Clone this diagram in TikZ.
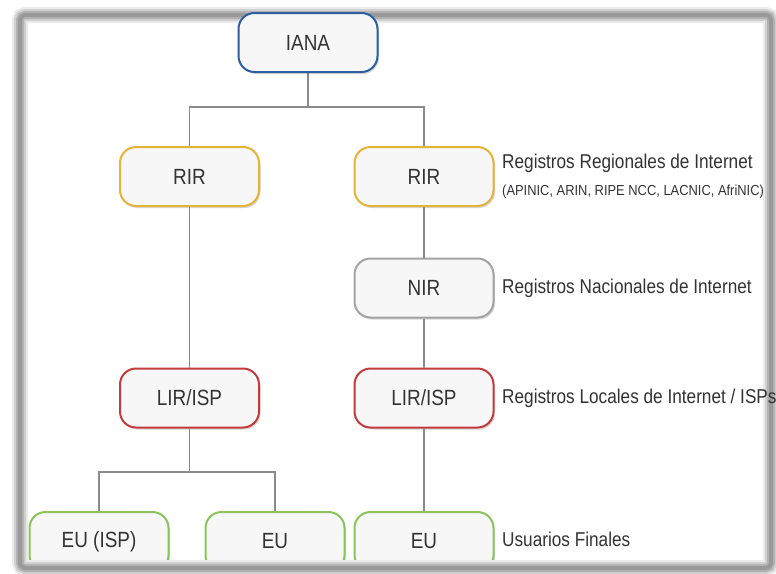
\documentclass[tikz,border=0pt]{standalone}
\usepackage{fontspec}
\setmainfont{Liberation Sans}[FakeStretch=0.86]
\newfontfamily\smallfont{Liberation Sans}[FakeStretch=0.89]
\usetikzlibrary{shadows}
\definecolor{cblue}{HTML}{2F5F9E}
\definecolor{cgold}{HTML}{E3B33A}
\definecolor{cgray}{HTML}{A3A3A3}
\definecolor{cred}{HTML}{C23B3D}
\definecolor{cgreen}{HTML}{8CC35C}
\definecolor{cline}{HTML}{8A8A8A}
\definecolor{ctext}{HTML}{333333}
\tikzset{
  box/.style={draw, line width=2pt, rounded corners=16pt, minimum width=139pt,
    minimum height=59pt, fill=white!97!black, text=ctext,
    font=\fontsize{22}{24}\selectfont, inner sep=0pt,
    drop shadow={shadow xshift=1.5pt, shadow yshift=-2pt, opacity=0.25, fill=black!60}},
  conn/.style={draw=cline, line width=1.5pt},
  lbl/.style={anchor=west, text=ctext, font=\fontsize{20}{22}\selectfont, inner sep=0pt},
  sublbl/.style={anchor=west, text=ctext, font=\smallfont\fontsize{14.5}{16}\selectfont, inner sep=0pt},
  framestroke/.style={draw=#1, rounded corners=5pt}
}
\begin{document}
\begin{tikzpicture}[x=1pt,y=-1pt]
\useasboundingbox (0,0) rectangle (776,573);
\fill[white] (0,0) rectangle (776,573);
\begin{scope}
\clip (22,17) rectangle (771,566);
% nodes
\node[box, draw=cgold] (rir1) at (189.5,176.5) {RIR};
\node[box, draw=cgold] (rir2) at (424,176.5) {RIR};
\node[box, draw=cgray] (nir) at (424,288) {NIR};
\node[box, draw=cred] (lir1) at (189.5,398) {LIR/ISP};
\node[box, draw=cred] (lir2) at (424,398) {LIR/ISP};
\node[box, draw=cgreen] (eu1) at (99,541.5) {EU (ISP)};
\node[box, draw=cgreen] (eu2) at (275,541.5) {EU};
\node[box, draw=cgreen] (eu3) at (424,541.5) {EU};
% junctions
\coordinate (j1) at (308,107);
\coordinate (j2) at (189.5,472);
\coordinate (ianab) at (308,72);
% connectors
\draw[conn] (ianab) -- (j1);
\draw[conn] (j1) -| (rir1.north);
\draw[conn] (j1) -| (rir2.north);
\draw[conn] (rir1.south) -- (lir1.north);
\draw[conn] (rir2.south) -- (nir.north);
\draw[conn] (nir.south) -- (lir2.north);
\draw[conn] (lir2.south) -- (eu3.north);
\draw[conn] (lir1.south) -- (j2);
\draw[conn] (j2) -| (eu1.north);
\draw[conn] (j2) -| (eu2.north);
% labels
\node[lbl] (l1) at (502,163) {Registros Regionales de Internet};
\node[sublbl] (l1b) at (502,192) {(APINIC, ARIN, RIPE NCC, LACNIC, AfriNIC)};
\node[lbl] (l2) at (502,288) {Registros Nacionales de Internet};
\node[lbl] (l4) at (502,539) {Usuarios Finales};
\end{scope}
% frame with soft shadow
\draw[framestroke=black!8, line width=16pt] (20,15) rectangle (771,568);
\draw[framestroke=black!18, line width=12pt] (20,15) rectangle (771,568);
\draw[framestroke=black!30, line width=8pt] (20,15) rectangle (771,568);
\draw[framestroke=black!40, line width=4pt] (20,15) rectangle (771,568);
% label that runs over the frame's right edge
\begin{scope}
\clip (22,17) rectangle (776,566);
\node[lbl] (l3) at (502,398) {Registros Locales de Internet / ISPs};
\end{scope}
% top node drawn over the frame
\node[box, draw=cblue] (iana) at (308,42.5) {IANA};
\end{tikzpicture}
\end{document}
